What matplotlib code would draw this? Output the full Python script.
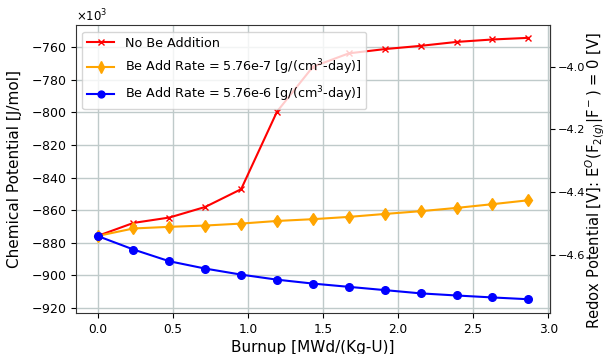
import numpy as np
import matplotlib.pyplot as plt

burnup = [0.0, 0.239, 0.478, 0.717, 0.956, 1.195, 1.434, 1.673, 1.912, 2.151, 2.390, 2.629, 2.868]

# chemical potential [J/mol]
no_be = [-875800, -867800, -864500, -858000, -847100, -799500, -772000, -763800,
         -761200, -759200, -756800, -755300, -754300]
be_low = [-875800, -871200, -870200, -869400, -868200, -866600, -865500, -864100,
          -862300, -860600, -858600, -856300, -853900]
be_high = [-875800, -884100, -891300, -895800, -899500, -902600, -905000, -907000,
           -909000, -911000, -912300, -913500, -914600]

FARADAY = 96485.0

plt.rcParams['font.size'] = 11

fig = plt.figure(figsize=(6.06, 3.54), dpi=100)
ax = fig.add_axes([0.1254, 0.116, 0.782, 0.813])

ax.plot(burnup, no_be, color='red', marker='x', markersize=5, lw=1.5,
        label='No Be Addition')
ax.plot(burnup, be_low, color='orange', marker='d', markersize=6.5, lw=1.5,
        label='Be Add Rate = 5.76e-7 [g/(cm$^3$-day)]')
ax.plot(burnup, be_high, color='blue', marker='o', markersize=5.5, lw=1.5,
        label='Be Add Rate = 5.76e-6 [g/(cm$^3$-day)]')

ax.set_ylim(-923000, -746500)
ax.ticklabel_format(axis='y', style='sci', scilimits=(3, 3), useMathText=True)
ax.yaxis.get_offset_text().set_fontsize(8.5)
ax.tick_params(axis='y', labelsize=9)
ax.tick_params(axis='x', labelsize=8.7)
ax.grid(True, color='#bfcaca', lw=1)
ax.set_axisbelow(True)
for s in ax.spines.values():
    s.set_color('#333333')
ax.set_xlabel('Burnup [MWd/(Kg-U)]', labelpad=3)
ax.set_ylabel('Chemical Potential [J/mol]', labelpad=6)
ax.legend(loc='upper left', fontsize=9.2, labelspacing=0.6,
          handlelength=2.1, handletextpad=0.8, markerscale=0.9)

sec = ax.secondary_yaxis('right', functions=(lambda v: v / (2 * FARADAY),
                                             lambda e: e * 2 * FARADAY))
sec.set_yticks([-4.0, -4.2, -4.4, -4.6])
sec.tick_params(labelsize=8.2, pad=2)
sec.set_ylabel('Redox Potential [V]: E$^O$(F$_{2(g)}$|F$^-$) = 0 [V]',
               fontsize=10.6)
sec.yaxis.set_label_coords(1.072, 0.46, transform=ax.transAxes)

fig.savefig('out.png', dpi=100)
